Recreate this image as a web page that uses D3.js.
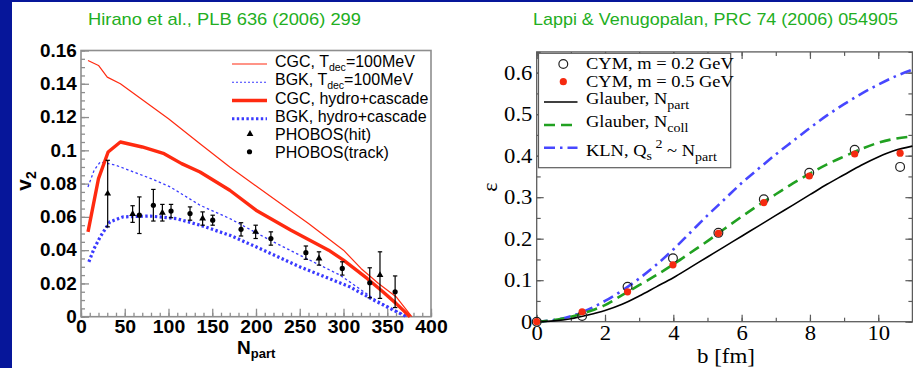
<!DOCTYPE html>
<html>
<head>
<meta charset="utf-8">
<script src="https://cdn.jsdelivr.net/npm/d3@7"></script>
<style>
  html, body { margin: 0; padding: 0; background: #fff; }
  svg { display: block; }
  text { white-space: pre; }
</style>
</head>
<body>
<svg id="chart" width="913" height="368"></svg>
<script>
// ---------- Left panel: elliptic flow v2 versus N_part ----------
const cgcTdecNpart = [8, 20, 30, 45, 100, 136, 170, 220, 260, 300, 320, 340, 360, 378];
const cgcTdecV2    = [0.154, 0.151, 0.144, 0.140, 0.119, 0.104, 0.090, 0.071, 0.056, 0.040, 0.029, 0.020, 0.012, 0.0];

const bgkTdecNpart = [8, 15, 22, 40, 60, 80, 102, 136, 170, 216, 250, 296, 334, 373];
const bgkTdecV2    = [0.078, 0.088, 0.093, 0.091, 0.087, 0.083, 0.078, 0.067, 0.059, 0.046, 0.037, 0.025, 0.011, 0.0];

const cgcCascNpart = [8, 20, 31, 45, 70, 95, 115, 136, 170, 200, 240, 283, 300, 327, 345, 360, 376];
const cgcCascV2    = [0.051, 0.083, 0.099, 0.105, 0.102, 0.098, 0.092, 0.087, 0.076, 0.064, 0.052, 0.040, 0.034, 0.023, 0.015, 0.008, 0.0];

const bgkCascNpart = [9, 15, 22, 33, 48, 79, 109, 136, 170, 200, 250, 307, 338, 372];
const bgkCascV2    = [0.033, 0.041, 0.048, 0.057, 0.060, 0.0605, 0.059, 0.055, 0.049, 0.042, 0.030, 0.018, 0.009, 0.0];

const phobosHitNpart = [30.5, 59, 93, 139, 199.6, 272, 341.7];
const phobosHitV2    = [0.074, 0.0617, 0.0625, 0.059, 0.051, 0.035, 0.025];
const phobosHitErr   = [0.020, 0.005, 0.005, 0.004, 0.004, 0.004, 0.014];

const phobosTrackNpart = [66.7, 82.7, 102.9, 124.6, 150.5, 182.9, 217, 257, 298.6, 330, 359];
const phobosTrackV2    = [0.061, 0.067, 0.0635, 0.062, 0.058, 0.0525, 0.047, 0.0385, 0.029, 0.0204, 0.015];
const phobosTrackErr   = [0.011, 0.0095, 0.004, 0.004, 0.003, 0.004, 0.004, 0.004, 0.004, 0.009, 0.0095];

const npartTicks      = [0, 50, 100, 150, 200, 250, 300, 350, 400];
const npartTickLabels = ["0", "50", "100", "150", "200", "250", "300", "350", "400"];
const v2Ticks         = [0, 0.02, 0.04, 0.06, 0.08, 0.1, 0.12, 0.14, 0.16];
const v2TickLabels    = ["0", "0.02", "0.04", "0.06", "0.08", "0.1", "0.12", "0.14", "0.16"];

// ---------- Right panel: eccentricity versus impact parameter ----------
const bGrid        = [0, 0.5, 1, 1.5, 2, 2.5, 3, 3.5, 4, 4.5, 5, 5.5, 6, 6.5, 7, 7.5, 8, 8.5, 9, 9.5, 10, 10.5, 11];
const glauberNpart = [0, 0.002, 0.007, 0.016, 0.027, 0.042, 0.062, 0.084, 0.106, 0.131, 0.156, 0.181, 0.206, 0.231, 0.256, 0.281, 0.306, 0.331, 0.354, 0.377, 0.397, 0.413, 0.423];
const glauberNcoll = [0, 0.004, 0.012, 0.024, 0.040, 0.064, 0.088, 0.112, 0.138, 0.166, 0.194, 0.224, 0.253, 0.281, 0.307, 0.333, 0.357, 0.379, 0.398, 0.416, 0.431, 0.441, 0.446];
const klnNpart     = [0, 0.004, 0.013, 0.029, 0.050, 0.075, 0.104, 0.137, 0.174, 0.215, 0.256, 0.295, 0.334, 0.369, 0.403, 0.435, 0.467, 0.497, 0.524, 0.549, 0.571, 0.591, 0.607];

const bCym   = [0, 1.33, 2.66, 3.99, 5.32, 6.65, 7.98, 9.31, 10.64];
const cymM02 = [0, 0.014, 0.084, 0.153, 0.214, 0.295, 0.359, 0.414, 0.373];
const cymM05 = [0, 0.024, 0.072, 0.137, 0.213, 0.287, 0.351, 0.404, 0.406];

const bTicks          = [0, 2, 4, 6, 8, 10];
const bTickLabels     = ["0", "2", "4", "6", "8", "10"];
const bMinorTicks     = [0, 1, 2, 3, 4, 5, 6, 7, 8, 9, 10, 11];
const epsTicks        = [0, 0.1, 0.2, 0.3, 0.4, 0.5, 0.6];
const epsTickLabels   = ["0", "0.1", "0.2", "0.3", "0.4", "0.5", "0.6"];
const epsMinorTicks   = [0, 0.05, 0.1, 0.15, 0.2, 0.25, 0.3, 0.35, 0.4, 0.45, 0.5, 0.55, 0.6, 0.65];

// ---------- helpers ----------
const svg = d3.select("#chart");
const SANS = "'Liberation Sans', Arial, Helvetica, sans-serif";
const SERIF = "'Liberation Serif', 'Times New Roman', serif";

function richText(parent, x, y, parts, o) {
  const t = parent.append("text")
    .attr("transform", `translate(${x},${y})${o.rotate ? ` rotate(${o.rotate})` : ""} scale(${o.sx || 1},1)`)
    .attr("font-family", o.family)
    .attr("font-size", o.size)
    .attr("font-weight", o.weight || "normal")
    .attr("fill", o.fill || "#000")
    .attr("text-anchor", o.anchor || "start");
  let cur = 0;
  parts.forEach(p => {
    const str = p[0], shift = p[1] || 0, size = p[2] || o.size;
    t.append("tspan").attr("dy", shift - cur).attr("font-size", size).text(str);
    cur = shift;
  });
  return t;
}

function styleAxis(g, color, width, family, size, weight, sx) {
  g.select(".domain").remove();
  g.selectAll(".tick line").attr("stroke", color).attr("stroke-width", width);
  g.selectAll(".tick text")
    .attr("fill", "#000")
    .attr("font-family", family)
    .attr("font-size", size)
    .attr("font-weight", weight)
    .attr("transform", `scale(${sx},1)`);
}

const zip = (xs, ys) => xs.map((x, i) => [x, ys[i]]);

// ---------- page background ----------
svg.append("rect").attr("width", 913).attr("height", 368).attr("fill", "#fff");
svg.append("rect").attr("x", 0).attr("y", 0).attr("width", 913).attr("height", 2).attr("fill", "#06169a");
svg.append("rect").attr("x", 0).attr("y", 0).attr("width", 12).attr("height", 368).attr("fill", "#06169a");

// titles
svg.append("text").attr("x", 88).attr("y", 25)
  .attr("textLength", 273).attr("lengthAdjust", "spacingAndGlyphs")
  .attr("font-family", SANS).attr("font-size", 17).attr("fill", "#22ae22")
  .text("Hirano et al., PLB 636 (2006) 299");
svg.append("text").attr("x", 533).attr("y", 25)
  .attr("textLength", 365).attr("lengthAdjust", "spacingAndGlyphs")
  .attr("font-family", SANS).attr("font-size", 17).attr("fill", "#22ae22")
  .text("Lappi & Venugopalan, PRC 74 (2006) 054905");

// ================= Left panel =================
const xL = d3.scaleLinear().domain([0, 400]).range([81, 431]);
const yL = d3.scaleLinear().domain([0, 0.16]).range([316.7, 50.5]);
const gL = svg.append("g");
const frameL = "#8e8e8e";

// minor ticks
gL.append("g").attr("transform", `translate(${xL(0)},0)`)
  .call(d3.axisLeft(yL).tickValues(d3.range(0, 0.1601, 0.005)).tickSize(-4).tickFormat(() => ""))
  .call(g => styleAxis(g, frameL, 1.3, SANS, 18, "bold", 1));
gL.append("g").attr("transform", `translate(0,${yL(0)})`)
  .call(d3.axisBottom(xL).tickValues(d3.range(0, 401, 10)).tickSize(-4).tickFormat(() => ""))
  .call(g => styleAxis(g, frameL, 1.3, SANS, 18, "bold", 1));
// major ticks and labels
gL.append("g").attr("transform", `translate(${xL(0)},0)`)
  .call(d3.axisLeft(yL).tickValues(v2Ticks).tickSize(-8).tickPadding(4)
    .tickFormat((d, i) => v2TickLabels[i]))
  .call(g => styleAxis(g, frameL, 1.3, SANS, 18, "bold", 1.05));
gL.append("g").attr("transform", `translate(0,${yL(0)})`)
  .call(d3.axisBottom(xL).tickValues(npartTicks).tickSize(-8).tickPadding(4)
    .tickFormat((d, i) => npartTickLabels[i]))
  .call(g => styleAxis(g, frameL, 1.3, SANS, 18, "bold", 1.08));

gL.append("rect")
  .attr("x", xL(0)).attr("y", yL(0.16))
  .attr("width", xL(400) - xL(0)).attr("height", yL(0) - yL(0.16))
  .attr("fill", "none").attr("stroke", frameL).attr("stroke-width", 1.6);

// axis titles
richText(gL, 31, 181, [["v"], ["2", 5, 14]], { family: SANS, size: 21, weight: "bold", rotate: -90, anchor: "middle" });
richText(gL, 237, 353.5, [["N"], ["part", 4, 13]], { family: SANS, size: 19, weight: "bold" });

// hydro curves
const lineL = d3.line().x(d => xL(d[0])).y(d => yL(d[1]));
const curvesL = [
  { data: zip(bgkCascNpart, bgkCascV2), color: "#3a3aff", width: 3.2, dash: "2.4,2.4" },
  { data: zip(bgkTdecNpart, bgkTdecV2), color: "#3a3aff", width: 1.3, dash: "2.5,2.5" },
  { data: zip(cgcCascNpart, cgcCascV2), color: "#ff2a10", width: 3.4, dash: null },
  { data: zip(cgcTdecNpart, cgcTdecV2), color: "#ff2a10", width: 1.2, dash: null }
];
curvesL.forEach(c => {
  gL.append("path").attr("d", lineL(c.data))
    .attr("fill", "none").attr("stroke", c.color).attr("stroke-width", c.width)
    .attr("stroke-dasharray", c.dash).attr("stroke-linejoin", "round");
});

// PHOBOS points with error bars
function errorBars(nps, vs, es) {
  nps.forEach((n, i) => {
    const x = xL(n), y1 = yL(vs[i] + es[i]), y2 = yL(vs[i] - es[i]);
    gL.append("line").attr("x1", x).attr("x2", x).attr("y1", y1).attr("y2", y2)
      .attr("stroke", "#000").attr("stroke-width", 1.2);
    [y1, y2].forEach(yy => gL.append("line").attr("x1", x - 2.2).attr("x2", x + 2.2)
      .attr("y1", yy).attr("y2", yy).attr("stroke", "#000").attr("stroke-width", 1.2));
  });
}
errorBars(phobosHitNpart, phobosHitV2, phobosHitErr);
errorBars(phobosTrackNpart, phobosTrackV2, phobosTrackErr);
const tri = d3.symbol(d3.symbolTriangle).size(20);
phobosHitNpart.forEach((n, i) => {
  gL.append("path").attr("d", tri()).attr("transform", `translate(${xL(n)},${yL(phobosHitV2[i])})`).attr("fill", "#000");
});
phobosTrackNpart.forEach((n, i) => {
  gL.append("circle").attr("cx", xL(n)).attr("cy", yL(phobosTrackV2[i])).attr("r", 2.6).attr("fill", "#000");
});

// legend
const legL = gL.append("g");
const legLRows = [
  { parts: [["CGC, T"], ["dec", 4, 10.5], ["=100MeV", 0]], kind: "line", color: "#ff2a10", width: 1.2, dash: null },
  { parts: [["BGK, T"], ["dec", 4, 10.5], ["=100MeV", 0]], kind: "line", color: "#3a3aff", width: 1.2, dash: "2,2" },
  { parts: [["CGC, hydro+cascade"]], kind: "line", color: "#ff2a10", width: 3.4, dash: null },
  { parts: [["BGK, hydro+cascade"]], kind: "line", color: "#3a3aff", width: 3.2, dash: "2.4,2.4" },
  { parts: [["PHOBOS(hit)"]], kind: "tri" },
  { parts: [["PHOBOS(track)"]], kind: "dot" }
];
legLRows.forEach((r, i) => {
  const base = 67 + i * 18.25;
  if (r.kind === "line") {
    legL.append("line").attr("x1", 232).attr("x2", 267).attr("y1", base - 3).attr("y2", base - 3)
      .attr("stroke", r.color).attr("stroke-width", r.width).attr("stroke-dasharray", r.dash);
  } else if (r.kind === "tri") {
    legL.append("path").attr("d", tri()).attr("transform", `translate(250,${base - 6})`).attr("fill", "#000");
  } else {
    legL.append("circle").attr("cx", 249.5).attr("cy", base - 6.5).attr("r", 2.6).attr("fill", "#000");
  }
  richText(legL, 275, base, r.parts, { family: SANS, size: 16 });
});

// ================= Right panel =================
const xR = d3.scaleLinear().domain([0, 11]).range([536.7, 912.4]);
const yR = d3.scaleLinear().domain([0, 0.65]).range([321.7, 51.9]);
const gR = svg.append("g");
const frameR = "#5c5c5c";

function ticksR(axisFn, scale, vals, size, transform) {
  gR.append("g").attr("transform", transform)
    .call(axisFn(scale).tickValues(vals).tickSize(size).tickFormat(() => ""))
    .call(g => styleAxis(g, frameR, 1.2, SERIF, 21, "normal", 1));
}
ticksR(d3.axisBottom, xR, bMinorTicks, -4, `translate(0,${yR(0)})`);
ticksR(d3.axisTop, xR, bMinorTicks, -4, `translate(0,${yR(0.65)})`);
ticksR(d3.axisTop, xR, bTicks, -7, `translate(0,${yR(0.65)})`);
ticksR(d3.axisLeft, yR, epsMinorTicks, -4, `translate(${xR(0)},0)`);
ticksR(d3.axisRight, yR, epsMinorTicks, -4, `translate(${xR(11)},0)`);
ticksR(d3.axisRight, yR, epsTicks, -7, `translate(${xR(11)},0)`);

gR.append("g").attr("transform", `translate(0,${yR(0)})`)
  .call(d3.axisBottom(xR).tickValues(bTicks).tickSize(-7).tickPadding(3)
    .tickFormat((d, i) => bTickLabels[i]))
  .call(g => styleAxis(g, frameR, 1.2, SERIF, 21, "normal", 1.08));
gR.append("g").attr("transform", `translate(${xR(0)},0)`)
  .call(d3.axisLeft(yR).tickValues(epsTicks).tickSize(-7).tickPadding(4)
    .tickFormat((d, i) => epsTickLabels[i]))
  .call(g => styleAxis(g, frameR, 1.2, SERIF, 21, "normal", 1.08));

gR.append("rect")
  .attr("x", xR(0)).attr("y", yR(0.65))
  .attr("width", xR(11) - xR(0)).attr("height", yR(0) - yR(0.65))
  .attr("fill", "none").attr("stroke", frameR).attr("stroke-width", 1.3);

// axis titles
richText(gR, 497, 187, [["ε"]], { family: SERIF, size: 22, rotate: -90, anchor: "middle" });
richText(gR, 726, 362.5, [["b [fm]"]], { family: SERIF, size: 20.5, anchor: "middle", sx: 1.12 });

// model curves
const lineR = d3.line().x(d => xR(d[0])).y(d => yR(d[1])).curve(d3.curveMonotoneX);
const curvesR = [
  { data: zip(bGrid, klnNpart), color: "#4747ff", width: 2.6, dash: "11,5,2.5,5" },
  { data: zip(bGrid, glauberNcoll), color: "#21a121", width: 2.6, dash: "11,6" },
  { data: zip(bGrid, glauberNpart), color: "#000", width: 1.6, dash: null }
];
curvesR.forEach(c => {
  gR.append("path").attr("d", lineR(c.data))
    .attr("fill", "none").attr("stroke", c.color).attr("stroke-width", c.width)
    .attr("stroke-dasharray", c.dash);
});

// CYM points
bCym.forEach((b, i) => {
  gR.append("circle").attr("cx", xR(b)).attr("cy", yR(cymM02[i])).attr("r", 4.4)
    .attr("fill", "none").attr("stroke", "#222").attr("stroke-width", 1.2);
});
bCym.forEach((b, i) => {
  gR.append("circle").attr("cx", xR(b)).attr("cy", yR(cymM05[i])).attr("r", 3.6)
    .attr("fill", "#f52a10");
});

// legend
const legR = gR.append("g");
legR.append("rect").attr("x", 538.5).attr("y", 53.3).attr("width", 192.2).attr("height", 114.4)
  .attr("fill", "#fff").attr("stroke", frameR).attr("stroke-width", 1.2);
const legRopt = { family: SERIF, size: 16.5, sx: 1.12 };
legR.append("circle").attr("cx", 563.3).attr("cy", 64).attr("r", 4.4)
  .attr("fill", "none").attr("stroke", "#222").attr("stroke-width", 1.2);
richText(legR, 586, 69.3, [["CYM, m = 0.2 GeV"]], legRopt);
legR.append("circle").attr("cx", 563.3).attr("cy", 81.7).attr("r", 3.6).attr("fill", "#f52a10");
richText(legR, 586, 86.7, [["CYM, m = 0.5 GeV"]], legRopt);
legR.append("line").attr("x1", 544).attr("x2", 577.5).attr("y1", 102).attr("y2", 102)
  .attr("stroke", "#000").attr("stroke-width", 1.6);
richText(legR, 586, 104, [["Glauber, N"], ["part", 5, 12.5]], legRopt);
legR.append("line").attr("x1", 544).attr("x2", 577.5).attr("y1", 125).attr("y2", 125)
  .attr("stroke", "#21a121").attr("stroke-width", 2.6).attr("stroke-dasharray", "11,6");
richText(legR, 586, 127.3, [["Glauber, N"], ["coll", 5, 12.5]], legRopt);
legR.append("line").attr("x1", 544).attr("x2", 577.5).attr("y1", 147.7).attr("y2", 147.7)
  .attr("stroke", "#4747ff").attr("stroke-width", 2.6).attr("stroke-dasharray", "11,5,2.5,5");
richText(legR, 586, 156, [["KLN, Q"], ["s", 4, 12.5], [" 2", -8, 12.5], [" ~ N", 0], ["part", 5, 12.5]], legRopt);
</script>
</body>
</html>
